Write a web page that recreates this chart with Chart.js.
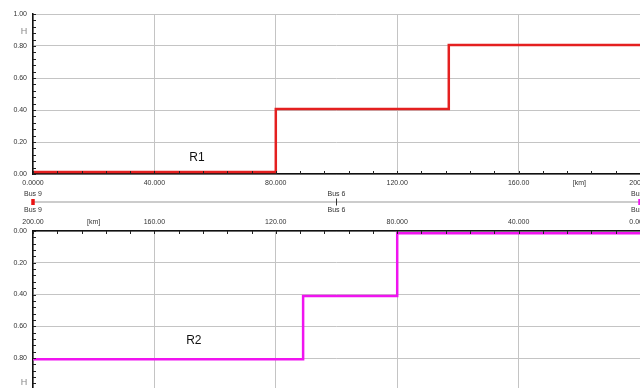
<!DOCTYPE html>
<html>
<head>
<meta charset="utf-8">
<script src="https://cdn.jsdelivr.net/npm/chart.js@4/dist/chart.umd.min.js"></script>
<style>
  html, body { margin: 0; padding: 0; width: 640px; height: 388px; overflow: hidden; background: #fff; }
  canvas { position: absolute; left: 0; }
  #topChart { top: 0; }
  #busChart { top: 188px; }
  #botChart { top: 212px; }
</style>
</head>
<body>
<canvas id="topChart" width="680" height="190"></canvas>
<canvas id="busChart" width="680" height="28"></canvas>
<canvas id="botChart" width="680" height="188"></canvas>
<script>
// Relay R1: tripping time [s] along the feeder, measured from Bus 9
const r1Km   = [0, 80, 137, 200];
const r1Time = [0.013, 0.406, 0.806, 0.806];
// Relay R2: tripping time [s] along the feeder, measured from the far bus
const r2Km   = [0, 80, 111, 200];
const r2Time = [0.014, 0.409, 0.808, 0.808];
// Busbars on the path
const busKm    = [0, 100, 200];
const busNames = ['Bus 9', 'Bus 6', 'Bus 4'];
// Axis ranges and tick steps
const kmRange   = [0, 200];
const kmStep    = 40;
const kmMinor   = 8;
const timeRange = [0, 1];
const timeStep  = 0.2;
const timeMinor = 0.04;

const FONT = "'Liberation Sans', Arial, sans-serif";
const TICK_FONT = { family: FONT, size: 7 };
const TICK_COLOR = '#333';
const GRID_COLOR = '#c4c4c4';

function kmLabel(v) { return Number(v).toPrecision(5); }
function timeLabel(v) { return Number(v).toFixed(2); }

// small inward ticks along the axis lines, plus unit and curve captions
const axisDecor = {
  id: 'axisDecor',
  afterDatasetsDraw(chart, args, o) {
    const { ctx, chartArea: ca, scales } = chart;
    ctx.save();
    ctx.strokeStyle = '#222';
    ctx.lineWidth = 1;
    const sx = scales.x, sy = scales.y;
    const xEdge = sx.position === 'top' ? ca.top : ca.bottom;
    const xDir = sx.position === 'top' ? 1 : -1;
    for (let v = sx.min; v <= sx.max + 1e-9; v += o.xMinor) {
      const px = Math.round(sx.getPixelForValue(v)) + 0.5;
      ctx.beginPath(); ctx.moveTo(px, xEdge); ctx.lineTo(px, xEdge + xDir * 3); ctx.stroke();
    }
    for (let v = sy.min; v <= sy.max + 1e-9; v += o.yMinor) {
      const py = Math.round(sy.getPixelForValue(v)) + 0.5;
      ctx.beginPath(); ctx.moveTo(ca.left, py); ctx.lineTo(ca.left + 3, py); ctx.stroke();
    }
    // unit of the distance axis, placed in the tick-label row
    ctx.fillStyle = TICK_COLOR;
    ctx.font = `7px ${FONT}`;
    ctx.textAlign = 'center';
    ctx.textBaseline = 'middle';
    ctx.fillText('[km]', sx.getPixelForValue(o.kmUnitAt), o.kmUnitY);
    // unit of the time axis
    ctx.fillStyle = '#888';
    ctx.font = `9px ${FONT}`;
    ctx.fillText('H', ca.left - 9, sy.getPixelForValue(o.timeUnitAt));
    // curve caption
    ctx.fillStyle = '#111';
    ctx.font = `12px ${FONT}`;
    ctx.fillText(o.caption.text, sx.getPixelForValue(o.caption.km), sy.getPixelForValue(o.caption.t));
    ctx.restore();
  }
};

function relayChart(id, km, time, color, cfg) {
  return new Chart(document.getElementById(id), {
    type: 'line',
    data: {
      datasets: [{
        data: km.map((k, i) => ({ x: k, y: time[i] })),
        borderColor: color,
        borderWidth: 2.5,
        pointRadius: 0,
        stepped: 'before',
        fill: false
      }]
    },
    options: {
      responsive: false,
      animation: false,
      devicePixelRatio: 1,
      layout: { padding: cfg.padding },
      plugins: {
        legend: { display: false },
        tooltip: { enabled: false },
        axisDecor: cfg.decor
      },
      scales: {
        x: {
          type: 'linear',
          position: cfg.xPos,
          reverse: cfg.reverse,
          min: kmRange[0], max: kmRange[1],
          grid: { color: GRID_COLOR, drawTicks: false },
          border: { color: '#111', width: 1.5 },
          ticks: { stepSize: kmStep, font: TICK_FONT, color: TICK_COLOR, padding: cfg.xPad,
                   maxRotation: 0, autoSkip: false, callback: v => kmLabel(v) },
          afterFit: s => { s.height = cfg.xHeight; }
        },
        y: {
          type: 'linear',
          reverse: cfg.reverse,
          min: timeRange[0], max: timeRange[1],
          grid: { color: GRID_COLOR, drawTicks: false },
          border: { color: '#111', width: 1.5 },
          ticks: { stepSize: timeStep, font: TICK_FONT, color: TICK_COLOR, padding: 6,
                   callback: v => (cfg.hideMax && v >= timeRange[1] - 1e-9) ? '' : timeLabel(v) },
          afterFit: s => { s.width = 33; }
        }
      }
    },
    plugins: [axisDecor]
  });
}

relayChart('topChart', r1Km, r1Time, 'rgb(228,32,32)', {
  padding: { top: 14, right: 40, left: 0, bottom: 0 },
  xPos: 'bottom', reverse: false, xPad: 4.5, xHeight: 16, hideMax: false,
  decor: { xMinor: kmMinor, yMinor: timeMinor, kmUnitAt: 180, kmUnitY: 182.7,
           timeUnitAt: 0.8875, caption: { text: 'R1', km: 54, t: 0.10 } }
});

relayChart('botChart', r2Km, r2Time, 'rgb(240,20,240)', {
  padding: { top: 0, right: 40, left: 0, bottom: 0 },
  xPos: 'top', reverse: true, xPad: 5, xHeight: 19, hideMax: true,
  decor: { xMinor: kmMinor, yMinor: timeMinor, kmUnitAt: 180, kmUnitY: 9.7,
           timeUnitAt: 0.955, caption: { text: 'R2', km: 147, t: 0.69 } }
});

// busbar strip between the two diagrams
const busLabels = {
  id: 'busLabels',
  afterDatasetsDraw(chart) {
    const { ctx, scales } = chart;
    ctx.save();
    ctx.fillStyle = TICK_COLOR;
    ctx.font = `7px ${FONT}`;
    ctx.textAlign = 'center';
    ctx.textBaseline = 'middle';
    const y0 = scales.y.getPixelForValue(0);
    busKm.forEach((k, i) => {
      const px = scales.x.getPixelForValue(k);
      ctx.fillText(busNames[i], px, y0 - 7.7);
      ctx.fillText(busNames[i], px, y0 + 7.7);
    });
    ctx.restore();
  }
};

new Chart(document.getElementById('busChart'), {
  type: 'scatter',
  data: {
    datasets: [
      {
        data: busKm.map(k => ({ x: k, y: 0 })),
        showLine: true,
        borderColor: '#999',
        borderWidth: 1,
        pointStyle: 'line',
        rotation: 90,
        pointRadius: [3, 3.5, 3],
        pointBorderWidth: [3.5, 1, 3.5],
        pointBorderColor: ['rgb(235,20,20)', '#333', 'rgb(240,20,240)'],
        pointBackgroundColor: ['rgb(235,20,20)', '#333', 'rgb(240,20,240)'],
        clip: false
      }
    ]
  },
  options: {
    responsive: false,
    animation: false,
    devicePixelRatio: 1,
    layout: { padding: { left: 33, right: 40, top: 0, bottom: 0 } },
    plugins: { legend: { display: false }, tooltip: { enabled: false } },
    scales: {
      x: { type: 'linear', min: kmRange[0], max: kmRange[1], display: false },
      y: { type: 'linear', min: -1, max: 1, display: false }
    }
  },
  plugins: [busLabels]
});
</script>
</body>
</html>
